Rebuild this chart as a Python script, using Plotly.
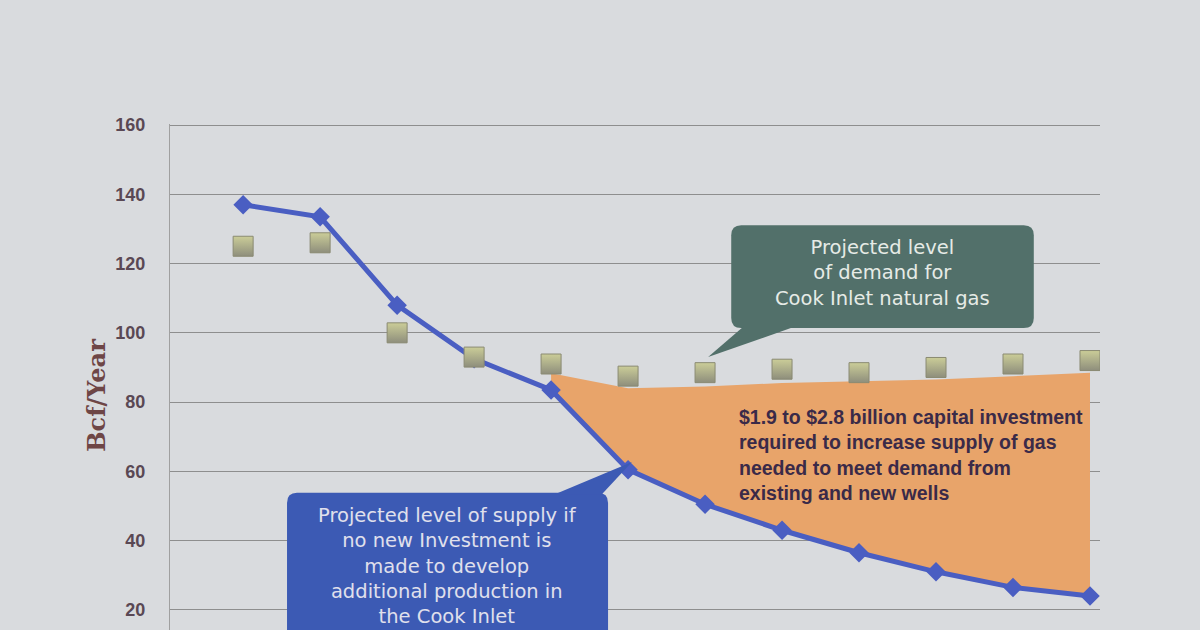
import plotly.graph_objects as go

# ============================
# dados (Bcf/Year)
# ============================
periodos = [0, 1, 2, 3, 4, 5, 6, 7, 8, 9, 10, 11]

oferta = [137, 133.5, 108, 92.5, 83.5, 60.5, 50.5, 43, 36.5, 31, 26.5, 24]
demanda = [125, 126, 100, 93, 91, 87.5, 88.5, 89.5, 88.5, 90, 91, 92]

# area laranja (lacuna entre oferta e demanda)
periodos_lacuna = [4, 5, 6, 7, 8, 9, 10, 11]
topo_lacuna = [88.3, 84, 84.5, 85.5, 86, 86.5, 87.5, 88.5]
base_lacuna = oferta[4:]

y_ticks = [20, 40, 60, 80, 100, 120, 140, 160]

texto_demanda = "Projected level<br>of demand for<br>Cook Inlet natural gas"
texto_oferta = ("Projected level of supply if<br>no new Investment is<br>"
                "made to develop<br>additional production in<br>the Cook Inlet")
texto_lacuna = ("$1.9 to $2.8 billion capital investment<br>"
                "required to increase supply of gas<br>"
                "needed to meet demand from<br>existing and new wells")

fundo = "#d9dbde"


def caixa_arredondada(x0, x1, y0, y1, rx=0.13, ry=2.9):
    return (f"M {x0+rx},{y0} L {x1-rx},{y0} Q {x1},{y0} {x1},{y0+ry} "
            f"L {x1},{y1-ry} Q {x1},{y1} {x1-rx},{y1} L {x0+rx},{y1} "
            f"Q {x0},{y1} {x0},{y1-ry} L {x0},{y0+ry} Q {x0},{y0} {x0+rx},{y0} Z")


fig = go.Figure()

# lacuna
fig.add_trace(go.Scatter(
    x=periodos_lacuna, y=base_lacuna, mode="lines",
    line=dict(width=0, color="rgba(0,0,0,0)"), showlegend=False, hoverinfo="skip"
))
fig.add_trace(go.Scatter(
    x=periodos_lacuna, y=topo_lacuna, mode="lines", fill="tonexty",
    fillcolor="#e8a46a", line=dict(width=0, color="#e8a46a"),
    showlegend=False, hoverinfo="skip"
))

# oferta
fig.add_trace(go.Scatter(
    x=periodos, y=oferta, mode="lines+markers", name="Supply",
    line=dict(color="#4a5ec2", width=5),
    marker=dict(symbol="diamond", size=15, color="#4a5ec2"),
    showlegend=False
))

# demanda
fig.add_trace(go.Scatter(
    x=periodos, y=demanda, mode="markers", name="Demand",
    marker=dict(symbol="square", size=20, color="#cbcd98",
                gradient=dict(type="vertical", color="#8e8e7c"),
                line=dict(color="#8a8a72", width=1)),
    showlegend=False
))

# caixas de texto (callouts)
shapes = [
    dict(type="path", xref="x", yref="y", layer="above",
         path=caixa_arredondada(6.34, 10.27, 101.4, 131.1),
         fillcolor="#52706a", line=dict(width=0)),
    dict(type="path", xref="x", yref="y", layer="above",
         path="M 6.50,101.8 L 7.17,101.8 L 6.04,93.0 Z",
         fillcolor="#52706a", line=dict(width=0)),
    dict(type="path", xref="x", yref="y", layer="above",
         path=caixa_arredondada(0.57, 4.74, 5, 53.8),
         fillcolor="#3c5ab4", line=dict(width=0)),
    dict(type="path", xref="x", yref="y", layer="above",
         path="M 4.05,53.4 L 4.66,53.4 L 5.05,62.7 Z",
         fillcolor="#3c5ab4", line=dict(width=0)),
]

annotations = [
    dict(x=8.3, y=117.3, xref="x", yref="y", text=texto_demanda, showarrow=False,
         font=dict(family="DejaVu Sans", size=19.5, color="#e6ebe6"), align="center"),
    dict(x=2.65, y=32.8, xref="x", yref="y", text=texto_oferta, showarrow=False,
         font=dict(family="DejaVu Sans", size=19.5, color="#e0e0ec"), align="center"),
    dict(x=6.42, y=64.6, xref="x", yref="y", text=texto_lacuna, showarrow=False,
         xanchor="left", align="left",
         font=dict(family="Liberation Sans", size=19.5, color="#3a2a48", weight="bold")),
    dict(x=0, y=82, xref="paper", yref="y", xshift=-90, text="Bcf/Year",
         textangle=-90, showarrow=False,
         font=dict(family="DejaVu Serif", size=24, color="#6e4646", weight="bold")),
]

fig.update_layout(
    width=1200, height=630,
    margin=dict(l=170, r=100, t=124, b=0),
    paper_bgcolor=fundo, plot_bgcolor=fundo,
    shapes=shapes, annotations=annotations,
    xaxis=dict(range=[-0.95, 11.13], showgrid=False, zeroline=False,
               showticklabels=False, showline=False),
    yaxis=dict(range=[14.2, 160.3], tickvals=y_ticks, showgrid=True,
               gridcolor="#8e8e8e", gridwidth=1, zeroline=False,
               showline=True, linecolor="#a0a0a0", linewidth=1,
               ticklabelstandoff=20,
               tickfont=dict(family="Liberation Sans", size=18,
                             color="#5a4854", weight="bold")),
)

fig.write_html("out.html", config={"displayModeBar": False},
               post_script="document.body.style.margin='0';")
